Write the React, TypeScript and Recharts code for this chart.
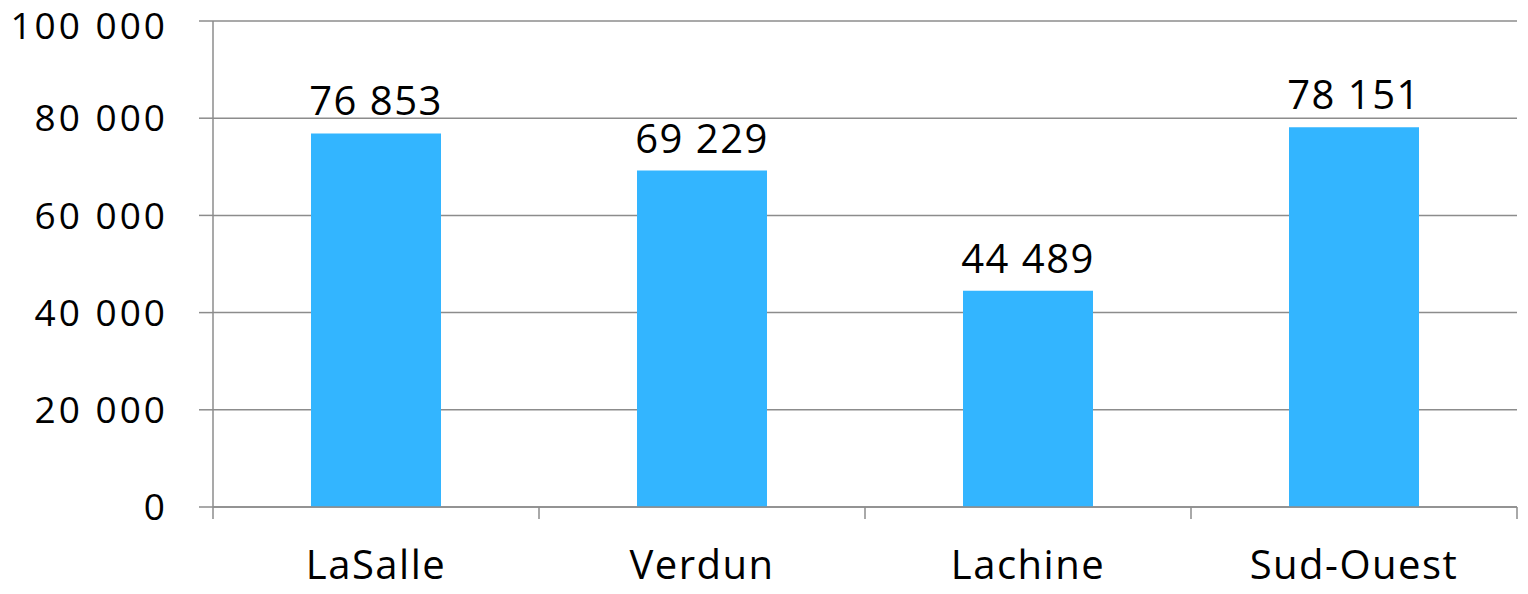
import React from 'react';
import { BarChart, Bar, XAxis, YAxis, CartesianGrid, LabelList } from 'recharts';

const categories = ['LaSalle', 'Verdun', 'Lachine', 'Sud-Ouest'];
const values = [76853, 69229, 44489, 78151];
const yTicks = [0, 20000, 40000, 60000, 80000, 100000];
const boundaryTicks = [0, 1, 2, 3, 4];

const data = categories.map((name, i) => ({ name, value: values[i], pos: i + 0.5 }));

const fmt = (v: any) => String(v).replace(/\B(?=(\d{3})+(?!\d))/g, ' ');
const FONT = '"Open Sans", "Noto Sans", sans-serif';
const GRID = '#8c8c8c';

const NoLabel = () => <g />;

export default function App() {
  return (
    <div style={{ position: 'absolute', left: 0, top: 0, background: '#fff' }}>
      <BarChart
        width={1528}
        height={594}
        data={data}
        margin={{ top: 21, right: 11, left: 0, bottom: 0 }}
        barSize={130}
      >
        <CartesianGrid vertical={false} stroke={GRID} strokeWidth={1.5} />
        <XAxis
          xAxisId="m"
          dataKey="name"
          height={85}
          tickLine={false}
          axisLine={false}
          tickMargin={36}
          tick={{ fill: '#000', fontSize: 40, fontFamily: FONT, letterSpacing: 1.5 }}
        />
        <XAxis
          xAxisId="a"
          dataKey="pos"
          type="number"
          domain={[0, 4]}
          ticks={boundaryTicks}
          interval={0}
          height={2}
          axisLine={{ stroke: GRID, strokeWidth: 1.5 }}
          tickSize={12}
          tickLine={{ stroke: GRID, strokeWidth: 1.5 }}
          tick={NoLabel}
        />
        <YAxis
          width={213}
          domain={[0, 100000]}
          ticks={yTicks}
          tickFormatter={fmt}
          tickSize={14}
          tickMargin={31}
          axisLine={{ stroke: GRID, strokeWidth: 1.5 }}
          tickLine={{ stroke: GRID, strokeWidth: 1.5 }}
          tick={{ fill: '#000', fontSize: 37, fontFamily: FONT, letterSpacing: 3 }}
        />
        <Bar xAxisId="m" dataKey="value" fill="#33b5ff" isAnimationActive={false}>
          <LabelList
            dataKey="value"
            position="top"
            offset={18}
            formatter={fmt}
            style={{ fill: '#000', fontSize: 40, fontFamily: FONT, letterSpacing: 1.5 }}
          />
        </Bar>
      </BarChart>
    </div>
  );
}
